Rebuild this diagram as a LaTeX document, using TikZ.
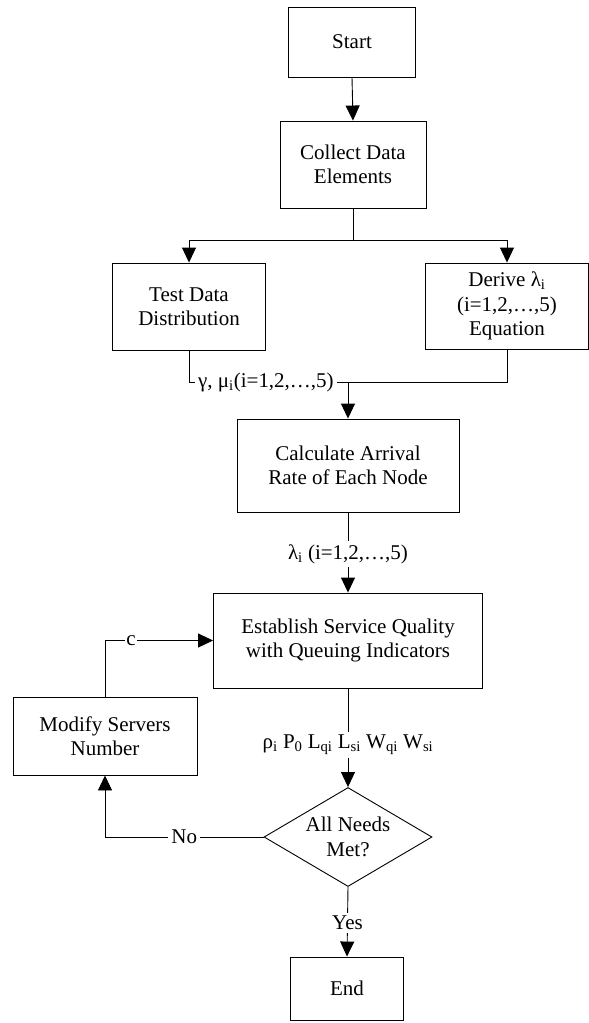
\documentclass[tikz,border=0pt]{standalone}
\usepackage{fontspec}
\setmainfont{Liberation Serif}
\usetikzlibrary{arrows.meta,shapes.geometric,calc}
\begin{document}
\begin{tikzpicture}[x=1pt,y=-1pt,
  every node/.style={font=\fontsize{21}{24.5}\selectfont},
  box/.style={draw,line width=0.9pt,align=center,inner sep=0pt},
  ln/.style={line width=0.9pt},
  arr/.style={line width=0.9pt,-{Triangle[length=15pt,width=14pt]}},
  lbl/.style={fill=white,inner sep=3pt}]
\useasboundingbox (0,0) rectangle (589,1023);
\node[box,minimum width=127pt,minimum height=70pt] (start) at (352,42) {Start};
\node[box,minimum width=146pt,minimum height=87pt] (collect) at (353,164.5) {Collect Data\\Elements};
\node[box,minimum width=153pt,minimum height=87pt] (test) at (189,306.5) {Test Data\\Distribution};
\node[box,minimum width=163pt,minimum height=86pt] (derive) at (507,306) {Derive λ\textsubscript{i}\\(i=1,2,…,5)\\Equation};
\node[box,minimum width=222pt,minimum height=93pt] (calc) at (348,465.5) {Calculate Arrival\\Rate of Each Node};
\node[box,minimum width=269pt,minimum height=95pt] (est) at (348,640.5) {Establish Service Quality\\with Queuing Indicators};
\node[box,minimum width=184pt,minimum height=78pt] (mod) at (105,736) {Modify Servers\\Number};
\node[draw,line width=0.9pt,inner sep=0pt,shape=diamond,minimum width=168pt,minimum height=99pt,shape aspect=1.7] (dia) at (348,837) {};
\node[align=center] at (dia.center) {All Needs\\Met?};
\node[box,minimum width=113pt,minimum height=63pt] (end) at (347,988.5) {End};

\draw[arr] (start.south) -- (collect.north);
\coordinate (j) at ($(collect.south)+(0,32)$);
\draw[ln] (collect.south) -- (j);
\draw[ln] (j -| test.north) -- (j -| derive.north);
\draw[arr] (j -| test.north) -- (test.north);
\draw[arr] (j -| derive.north) -- (derive.north);

\coordinate (m) at ($(test.south)+(0,32)$);
\draw[ln] (test.south) -- (m) -- (m -| calc.north);
\draw[ln] (derive.south) -- (derive.south |- m) -- (m -| calc.north);
\draw[arr] (m -| calc.north) -- (calc.north);
\node[lbl,anchor=west] at ($(m)+(6,0)$) {γ, μ\textsubscript{i}(i=1,2,…,5)};

\draw[arr] (calc.south) -- node[lbl,pos=0.52] {λ\textsubscript{i} (i=1,2,…,5)} (est.north);
\draw[arr] (est.south) -- node[lbl,pos=0.57] {ρ\textsubscript{i} P\textsubscript{0} L\textsubscript{qi} L\textsubscript{si} W\textsubscript{qi} W\textsubscript{si}} (dia.north);
\draw[arr] (dia.west) -- node[lbl,pos=0.5] {No} (dia.west -| mod.south) -- (mod.south);
\draw[arr] (mod.north) |- node[lbl,pos=0.62,inner sep=1pt] {c} (est.west);
\draw[arr] (dia.south) -- node[lbl,pos=0.52] {Yes} (end.north);
\end{tikzpicture}
\end{document}
